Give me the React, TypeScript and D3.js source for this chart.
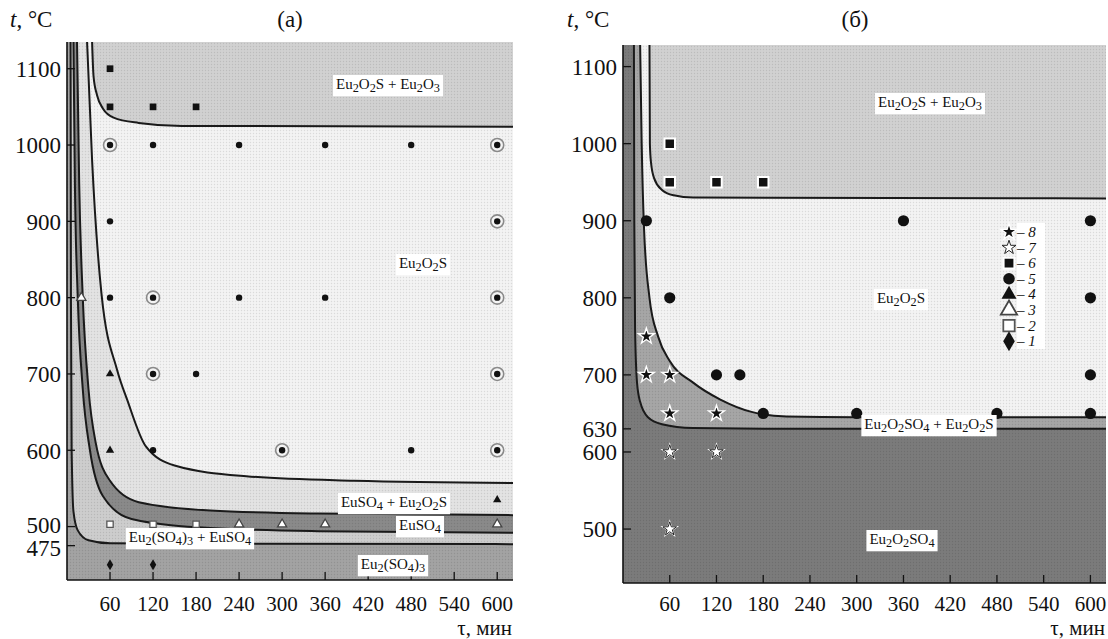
import { useEffect, useRef } from "react";
import * as d3 from "d3";

type P = [number, number];

// τ (min) ticks shared by both panels
const xTicks = [60, 120, 180, 240, 300, 360, 420, 480, 540, 600];
const yTicksA = [475, 500, 600, 700, 800, 900, 1000, 1100];
const yTicksB = [500, 600, 630, 700, 800, 900, 1000, 1100];

// panel (a) phase boundaries [τ, t]
const aC1: P[] = [[5, 1135], [5.5, 800], [6.5, 600], [9, 520], [15, 495], [30, 482], [60, 478], [622, 477]];
const aC2: P[] = [[9, 1135], [11, 950], [15, 800], [22, 680], [32, 600], [50, 540], [90, 510], [200, 498], [350, 494], [622, 492]];
const aC3: P[] = [[14, 1135], [17, 950], [22, 800], [30, 680], [40, 610], [60, 560], [100, 532], [200, 521], [350, 517], [622, 515]];
const aC4: P[] = [[28, 1135], [35, 980], [48, 806], [70, 705], [84, 666], [110, 605], [150, 580], [250, 566], [400, 560], [622, 557]];
const aC5: P[] = [[35, 1135], [37, 1090], [42, 1065], [50, 1048], [65, 1036], [100, 1029], [160, 1025], [622, 1024]];

// panel (a) experiments
const aSquare6: P[] = [[60, 1100], [60, 1050], [120, 1050], [180, 1050]];
const aCircle5: P[] = [[60, 1000], [120, 1000], [240, 1000], [360, 1000], [480, 1000], [600, 1000], [60, 900], [600, 900],
  [60, 800], [120, 800], [240, 800], [360, 800], [600, 800], [120, 700], [180, 700], [600, 700], [120, 600], [300, 600], [480, 600], [600, 600]];
const aRinged: P[] = [[60, 1000], [600, 1000], [600, 900], [120, 800], [600, 800], [120, 700], [600, 700], [300, 600], [600, 600]];
const aTriFill4: P[] = [[60, 700], [60, 600], [600, 535]];
const aTriOpen3: P[] = [[20, 800], [240, 503], [300, 503], [360, 503], [600, 503]];
const aSqOpen2: P[] = [[60, 503], [120, 503], [180, 503]];
const aDiamond1: P[] = [[60, 450], [120, 450]];

// panel (б) phase boundaries
const bC1: P[] = [[14, 1128], [14.5, 900], [15.5, 760], [18, 690], [22, 665], [32, 645], [50, 636], [90, 631], [200, 630], [620, 630]];
const bC2: P[] = [[22, 1128], [24, 1000], [27, 890], [34, 800], [45, 750], [60, 718], [90, 690], [125, 668], [165, 652], [210, 646], [300, 645], [620, 645]];
const bC3: P[] = [[34, 1128], [34.5, 1000], [36, 975], [40, 955], [50, 940], [65, 933], [90, 930], [620, 929]];

// panel (б) experiments
const bSquare6: P[] = [[60, 1000], [60, 950], [120, 950], [180, 950]];
const bCircle5: P[] = [[30, 900], [360, 900], [600, 900], [60, 800], [600, 800], [120, 700], [150, 700], [600, 700],
  [180, 650], [300, 650], [480, 650], [600, 650]];
const bStarOpen7: P[] = [[60, 600], [120, 600], [60, 500]];
const bStarFill8: P[] = [[30, 750], [30, 700], [60, 700], [60, 650], [120, 650]];

const legendKeys = ["8", "7", "6", "5", "4", "3", "2", "1"];
const legendKinds = ["starFill", "starOpen", "square", "circle", "triFill", "triOpen", "sqOpen", "diamond"];

const FONT = "'Liberation Serif', 'Times New Roman', serif";

type G = d3.Selection<SVGGElement, unknown, null, undefined>;

function formula(t: d3.Selection<SVGTextElement, unknown, null, undefined>, s: string, fs: number) {
  const parts = s.match(/(\d+|[^\d]+)/g) || [];
  let sub = false;
  for (const p of parts) {
    const ts = t.append("tspan").text(p);
    if (/^\d+$/.test(p)) {
      ts.attr("font-size", fs * 0.82).attr("dy", fs * 0.22);
      sub = true;
    } else if (sub) {
      ts.attr("dy", -fs * 0.22);
      sub = false;
    }
  }
}

function label(g: G, x: number, y: number, s: string, fs = 15) {
  const t = g.append("text").attr("x", x).attr("y", y).attr("text-anchor", "middle")
    .attr("font-size", fs).attr("font-family", FONT).attr("fill", "#111");
  formula(t, s, fs);
  const bb = (t.node() as SVGTextElement).getBBox();
  g.insert("rect", () => t.node())
    .attr("x", bb.x - 3).attr("y", bb.y - 1).attr("width", bb.width + 6).attr("height", bb.height + 2)
    .attr("fill", "#fff");
}

// kind of marker, position, scale (1 = panel a, larger for panel б / legend)
function mark(g: G, kind: string, x: number, y: number, s: number) {
  const sym = (type: d3.SymbolType, size: number) => d3.symbol().type(type).size(size)();
  const add = (d: string | null, fill: string, stroke: string, sw: number) =>
    g.append("path").attr("d", d).attr("transform", `translate(${x},${y})`)
      .attr("fill", fill).attr("stroke", stroke).attr("stroke-width", sw);
  switch (kind) {
    case "ring":
      g.append("circle").attr("cx", x).attr("cy", y).attr("r", 6.5).attr("fill", "#f4f4f4")
        .attr("stroke", "#8a8a8a").attr("stroke-width", 1.6);
      break;
    case "circle":
      g.append("circle").attr("cx", x).attr("cy", y).attr("r", 3.2 * s).attr("fill", "#111");
      break;
    case "square":
      if (s > 1) add(sym(d3.symbolSquare, 36 * s * s), "#111", "#fff", 2);
      else add(sym(d3.symbolSquare, 45), "#111", "none", 0);
      break;
    case "sqOpen":
      add(sym(d3.symbolSquare, 40 * s * s), "#fff", "#555", 1.3 * Math.sqrt(s));
      break;
    case "triFill":
      add(sym(d3.symbolTriangle, 30 * s * s), "#111", "none", 0);
      break;
    case "triOpen":
      add(sym(d3.symbolTriangle, 36 * s * s), "#fff", "#444", 1.3 * Math.sqrt(s));
      break;
    case "diamond":
      add(sym(d3.symbolDiamond, 36 * s * s), "#111", "none", 0);
      break;
    case "starFill":
      add(sym(d3.symbolStar, 25 * s * s), "#111", "#fff", 1.4);
      break;
    case "starOpen":
      add(sym(d3.symbolStar, 19 * s * s), "#fff", "#fff", 1.6);
      add(sym(d3.symbolStar, 19 * s * s), "#fff", "#222", 1);
      break;
  }
}

interface Panel {
  x0: number; x1: number; y0: number; y1: number;
  xMax: number; tMin: number; tMax: number;
  yTicks: number[];
  bounds: P[][];
  fills: string[];
  id: string;
}

function drawPanel(svg: d3.Selection<SVGSVGElement, unknown, null, undefined>, p: Panel) {
  const x = d3.scaleLinear().domain([0, p.xMax]).range([p.x0, p.x1]);
  const y = d3.scaleLinear().domain([p.tMin, p.tMax]).range([p.y1, p.y0]);
  const g = svg.append("g");

  svg.append("defs").append("clipPath").attr("id", p.id)
    .append("rect").attr("x", p.x0).attr("y", p.y0).attr("width", p.x1 - p.x0).attr("height", p.y1 - p.y0);
  const area = g.append("g").attr("clip-path", `url(#${p.id})`);

  area.append("rect").attr("x", p.x0).attr("y", p.y0).attr("width", p.x1 - p.x0).attr("height", p.y1 - p.y0)
    .attr("fill", p.fills[0]);
  const line = d3.line<P>().x(d => x(d[0])).y(d => y(d[1])).curve(d3.curveMonotoneX);
  p.bounds.forEach((b, i) => {
    const last = b[b.length - 1];
    area.append("path")
      .attr("d", `${line(b)}L${x(last[0]) + 5},${y(last[1])}L${x(last[0]) + 5},${p.y0 - 5}L${x(b[0][0])},${p.y0 - 5}Z`)
      .attr("fill", p.fills[i + 1]);
  });
  // halftone screen of the print
  area.append("rect").attr("x", p.x0).attr("y", p.y0).attr("width", p.x1 - p.x0).attr("height", p.y1 - p.y0)
    .attr("fill", "url(#screen)");
  p.bounds.forEach(b => {
    area.append("path").attr("d", line(b)).attr("fill", "none").attr("stroke", "#1a1a1a").attr("stroke-width", 2);
  });

  // axes
  g.append("line").attr("x1", p.x0).attr("x2", p.x0).attr("y1", p.y0).attr("y2", p.y1)
    .attr("stroke", "#111").attr("stroke-width", 1.6);
  g.append("line").attr("x1", p.x0).attr("x2", p.x1).attr("y1", p.y1).attr("y2", p.y1)
    .attr("stroke", "#111").attr("stroke-width", 1.6);
  for (const t of p.yTicks) {
    g.append("line").attr("x1", p.x0).attr("x2", p.x0 + 8).attr("y1", y(t)).attr("y2", y(t))
      .attr("stroke", "#111").attr("stroke-width", 1.3);
    const nudge = t === 500 && p.yTicks.includes(475) ? -2 : t === 475 ? 2 : 0;
    g.append("text").attr("x", p.x0 - 6).attr("y", y(t) + nudge).attr("dy", "0.36em")
      .attr("text-anchor", "end").attr("font-size", 23).attr("font-family", FONT).attr("fill", "#111").text(t);
  }
  for (const t of xTicks) {
    g.append("line").attr("x1", x(t)).attr("x2", x(t)).attr("y1", p.y1).attr("y2", p.y1 - 8)
      .attr("stroke", "#111").attr("stroke-width", 1.3);
    g.append("text").attr("x", x(t)).attr("y", 611)
      .attr("text-anchor", "middle").attr("font-size", 21).attr("font-family", FONT).attr("fill", "#111").text(t);
  }
  return { x, y, g };
}

export default function App() {
  const ref = useRef<SVGSVGElement>(null);

  useEffect(() => {
    if (!ref.current) return;
    const svg = d3.select(ref.current);
    svg.selectAll("*").remove();
    svg.append("rect").attr("width", 1108).attr("height", 639).attr("fill", "#fff");
    const pat = svg.append("defs").append("pattern").attr("id", "screen")
      .attr("width", 3).attr("height", 3).attr("patternUnits", "userSpaceOnUse");
    pat.append("circle").attr("cx", 1.5).attr("cy", 1.5).attr("r", 0.7).attr("fill", "#000").attr("opacity", 0.1);

    // ---------- panel (a)
    const A = drawPanel(svg, {
      x0: 67, x1: 513, y0: 42, y1: 580, xMax: 622, tMin: 430, tMax: 1135,
      yTicks: yTicksA, bounds: [aC1, aC2, aC3, aC4, aC5],
      fills: ["#a3a3a3", "#cdcdcd", "#8a8a8a", "#e3e3e3", "#f3f3f3", "#d1d1d1"], id: "clipA",
    });
    const ga = A.g;
    aRinged.forEach(d => mark(ga, "ring", A.x(d[0]), A.y(d[1]), 1));
    aCircle5.forEach(d => mark(ga, "circle", A.x(d[0]), A.y(d[1]), 1));
    aSquare6.forEach(d => mark(ga, "square", A.x(d[0]), A.y(d[1]), 1));
    aTriFill4.forEach(d => mark(ga, "triFill", A.x(d[0]), A.y(d[1]), 1));
    aTriOpen3.forEach(d => mark(ga, "triOpen", A.x(d[0]), A.y(d[1]), 1));
    aSqOpen2.forEach(d => mark(ga, "sqOpen", A.x(d[0]), A.y(d[1]), 1));
    aDiamond1.forEach(d => mark(ga, "diamond", A.x(d[0]), A.y(d[1]), 1));

    label(ga, 388, 89, "Eu2O2S + Eu2O3");
    label(ga, 423, 268, "Eu2O2S");
    label(ga, 394, 507, "EuSO4 + Eu2O2S");
    label(ga, 420, 530, "EuSO4");
    label(ga, 190, 542, "Eu2(SO4)3 + EuSO4");
    label(ga, 393, 569, "Eu2(SO4)3");

    // ---------- panel (б)
    const B = drawPanel(svg, {
      x0: 623, x1: 1106, y0: 45, y1: 583, xMax: 620, tMin: 430, tMax: 1128,
      yTicks: yTicksB, bounds: [bC1, bC2, bC3],
      fills: ["#7b7b7b", "#a6a6a6", "#f3f3f3", "#d1d1d1"], id: "clipB",
    });
    const gb = B.g;
    bCircle5.forEach(d => mark(gb, "circle", B.x(d[0]), B.y(d[1]), 1.75));
    bSquare6.forEach(d => mark(gb, "square", B.x(d[0]), B.y(d[1]), 1.75));
    bStarOpen7.forEach(d => mark(gb, "starOpen", B.x(d[0]), B.y(d[1]), 1.75));
    bStarFill8.forEach(d => mark(gb, "starFill", B.x(d[0]), B.y(d[1]), 1.75));

    label(gb, 930, 107, "Eu2O2S + Eu2O3");
    label(gb, 901, 303, "Eu2O2S");
    label(gb, 929, 429, "Eu2O2SO4 + Eu2O2S");
    label(gb, 902, 544, "Eu2O2SO4");

    // legend
    const lg = gb.append("g");
    lg.append("rect").attr("x", 1017).attr("y", 223).attr("width", 28).attr("height", 126).attr("fill", "#fff");
    legendKeys.forEach((k, i) => {
      const yy = 232 + i * 15.6;
      mark(lg, legendKinds[i], 1009, yy, 1.8);
      const t = lg.append("text").attr("x", 1017).attr("y", yy).attr("dy", "0.33em")
        .attr("font-size", 15).attr("font-family", FONT).attr("fill", "#111");
      t.append("tspan").text("– ");
      t.append("tspan").attr("font-style", "italic").text(k);
    });

    // titles and axis names
    const txt = (x: number, y: number, anchor: string, fs: number) =>
      svg.append("text").attr("x", x).attr("y", y).attr("text-anchor", anchor)
        .attr("font-size", fs).attr("font-family", FONT).attr("fill", "#111");
    for (const xx of [10, 567]) {
      const t = txt(xx, 27, "start", 23);
      t.append("tspan").attr("font-style", "italic").text("t");
      t.append("tspan").text(", °C");
    }
    txt(290, 27, "middle", 23).text("(a)");
    txt(855, 27, "middle", 23).text("(б)");
    txt(512, 635, "end", 21).text("τ, мин");
    txt(1105, 635, "end", 21).text("τ, мин");
  }, []);

  return (
    <svg ref={ref} width={1108} height={639}
      style={{ position: "absolute", left: 0, top: 0, display: "block" }} />
  );
}
